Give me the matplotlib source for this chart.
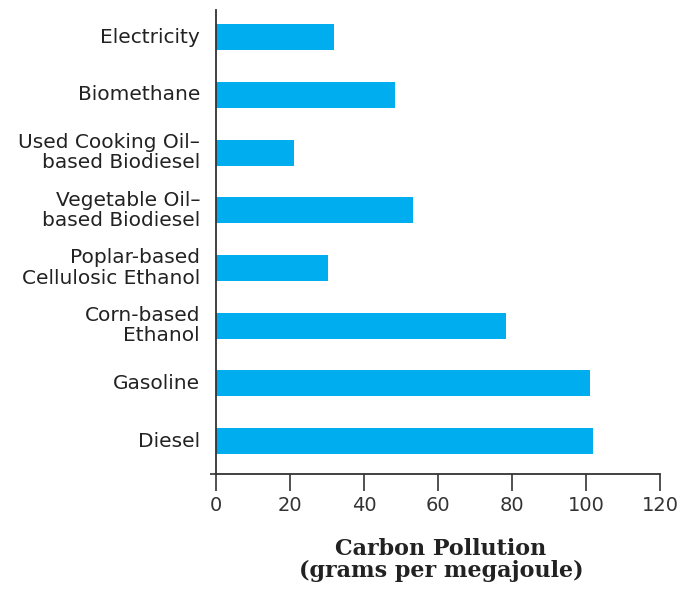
import matplotlib.pyplot as plt
import numpy as np

# categories from bottom to top
fuels = ['Diesel', 'Gasoline', 'Corn-based\nEthanol', 'Poplar-based\nCellulosic Ethanol',
         'Vegetable Oil–\nbased Biodiesel', 'Used Cooking Oil–\nbased Biodiesel',
         'Biomethane', 'Electricity']
carbon = [101.9, 101.1, 78.4, 30.2, 53.2, 21.0, 48.3, 31.8]
xticks = [0, 20, 40, 60, 80, 100, 120]

fig = plt.figure(figsize=(6.8, 5.9), dpi=100)
ax = fig.add_axes([216 / 680, 1 - 474 / 590, 444 / 680, 464 / 590])

y = np.arange(len(fuels))
ax.barh(y, carbon, height=0.45, color='#00aeef')

ax.set_xlim(0, 120)
ax.set_ylim(-0.57, 7.47)
ax.set_xticks(xticks)
ax.set_xticklabels([str(t) for t in xticks], fontsize=14, family='DejaVu Sans', color='#333333')
ax.tick_params(axis='x', length=12, width=1.2, color='#333333', pad=4)

ax.set_yticks([-0.57])
ax.set_yticklabels([''])
ax.tick_params(axis='y', length=4, width=1.2, color='#333333')

for yi, name in zip(y, fuels):
    ax.text(-4.3, yi, name, ha='right', va='center', fontsize=14.5,
            family='DejaVu Sans', color='#222222', linespacing=1.08)

for side in ['top', 'right']:
    ax.spines[side].set_visible(False)
for side in ['left', 'bottom']:
    ax.spines[side].set_linewidth(1.3)
    ax.spines[side].set_color('#333333')

fig.text(441 / 680, 1 - 560 / 590, 'Carbon Pollution\n(grams per megajoule)', ha='center',
         va='center', fontsize=16, family='DejaVu Serif', fontweight='bold',
         color='#222222', linespacing=1.0)

fig.savefig('out.png', dpi=100)
